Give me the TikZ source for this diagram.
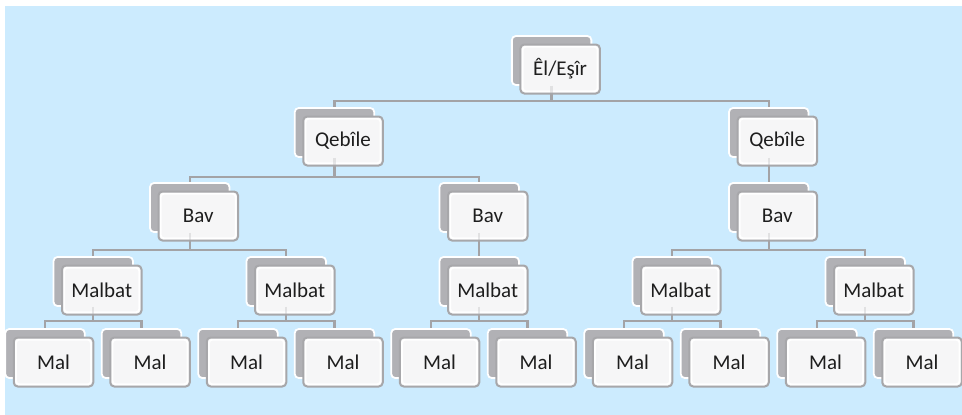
\documentclass[tikz,border=0pt]{standalone}
\usepackage{fontspec}
\setmainfont{Carlito}
\definecolor{bgblue}{HTML}{CCEBFE}
\definecolor{backgray}{HTML}{B1B1B5}
\definecolor{frontfill}{HTML}{F6F6F7}
\definecolor{edgegray}{HTML}{A7A7AA}
\definecolor{linegray}{HTML}{A3A3A6}
\definecolor{textdark}{HTML}{1E1E1E}
\tikzset{
  backbox/.style={rectangle, rounded corners=4pt, minimum width=79.5pt,
    minimum height=49pt, inner sep=0pt, fill=backgray, draw=white,
    line width=1.8pt},
  frontbox/.style={rectangle, rounded corners=4pt, minimum width=79.5pt,
    minimum height=49pt, inner sep=0pt, fill=frontfill,
    draw=edgegray, line width=2pt, text=textdark,
    font=\fontsize{21}{25}\selectfont,
    path picture={\draw[white, line width=1.8pt, rounded corners=3pt]
      ([shift={(2.3pt,-2.3pt)}]path picture bounding box.north west)
      rectangle ([shift={(-2.3pt,2.3pt)}]path picture bounding box.south east);}},
  conn/.style={draw=linegray, line width=2.4pt},
  faint/.style={draw=linegray, line width=2.4pt, draw opacity=0.25}
}
\begin{document}
\begin{tikzpicture}[x=1pt, y=-1pt]
  % canvas and background panel
  \useasboundingbox (0,0) rectangle (962,415);
  \fill[white] (0,0) rectangle (962,415);
  \fill[bgblue] (5,6) rectangle (962,415);

  % bus line levels
  \coordinate (h1) at (0,101);
  \coordinate (h2) at (0,177);
  \coordinate (h3) at (0,250);
  \coordinate (h4) at (0,321);

  % shadow boxes
  \foreach \n/\x/\y in {
      el/551.625/60.5,
      q1/334.5/132.5, q2/768.75/132.5,
      b1/189.75/207.5, b2/479.25/207.5, b3/768.75/207.5,
      m1/93.25/281.5, m2/286.25/281.5, m3/479.25/281.5, m4/672.25/281.5, m5/865.25/281.5,
      a1/45/353.5, a2/141.5/353.5, a3/238/353.5, a4/334.5/353.5, a5/431/353.5,
      a6/527.5/353.5, a7/624/353.5, a8/720.5/353.5, a9/817/353.5, a10/913.5/353.5}
    \node[backbox] (\n) at (\x,\y) {};

  % connectors
  \foreach \p/\c/\h in {
      el/q1/h1, el/q2/h1,
      q1/b1/h2, q1/b2/h2, q2/b3/h2,
      b1/m1/h3, b1/m2/h3, b2/m3/h3, b3/m4/h3, b3/m5/h3,
      m1/a1/h4, m1/a2/h4, m2/a3/h4, m2/a4/h4, m3/a5/h4,
      m3/a6/h4, m4/a7/h4, m4/a8/h4, m5/a9/h4, m5/a10/h4}
    \draw[conn] (\p.south) -- (\p.south |- \h) -| (\c.north);

  % labelled front boxes
  \foreach \n/\t in {
      el/{Êl/Eşîr},
      q1/Qebîle, q2/Qebîle,
      b1/Bav, b2/Bav, b3/Bav,
      m1/Malbat, m2/Malbat, m3/Malbat, m4/Malbat, m5/Malbat,
      a1/Mal, a2/Mal, a3/Mal, a4/Mal, a5/Mal,
      a6/Mal, a7/Mal, a8/Mal, a9/Mal, a10/Mal}
    \node[frontbox] (\n f) at ([shift={(8.5pt,-8.5pt)}]\n.center) {\t};

  % stems showing faintly through the parent front boxes
  \foreach \p in {el, q1, q2, b1, b2, b3, m1, m2, m3, m4, m5}
    \draw[faint] (\p.south) -- (\p.south |- \p f.south);
\end{tikzpicture}
\end{document}
